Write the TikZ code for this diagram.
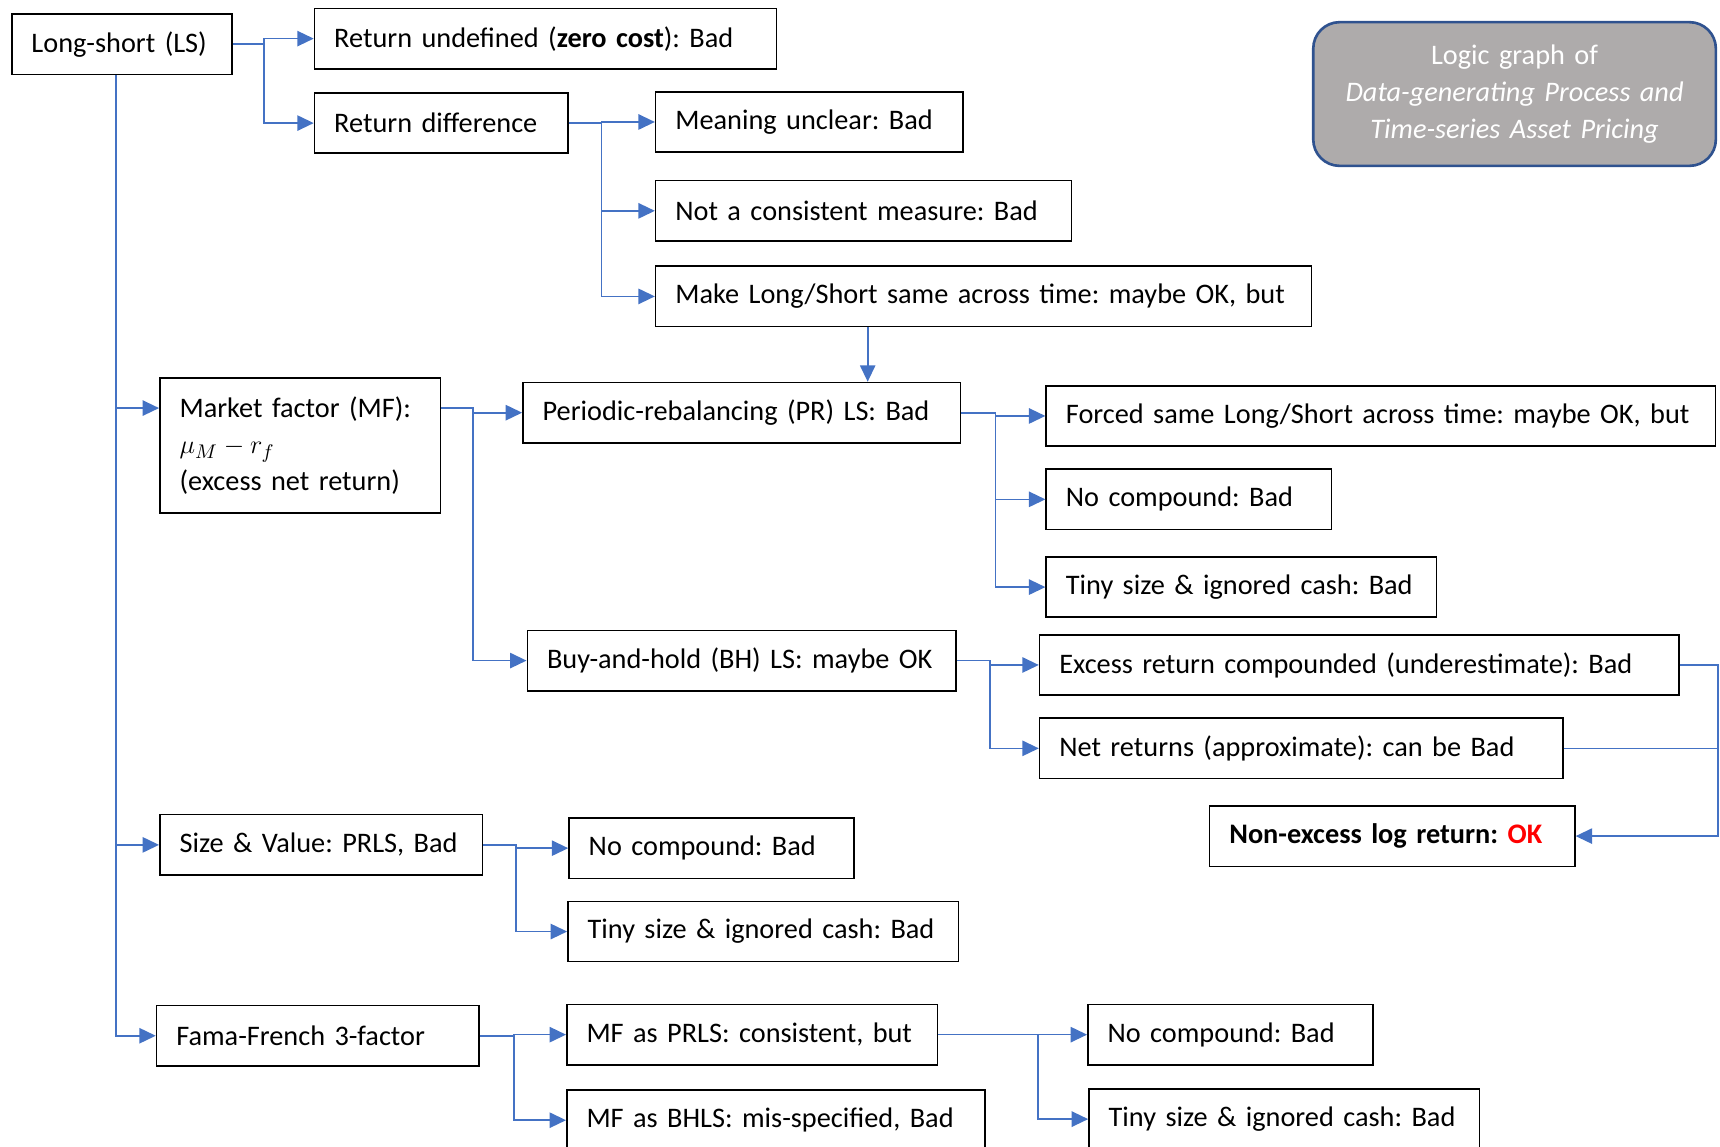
\documentclass[tikz,border=0pt]{standalone}
\usepackage{fontspec}
\setmainfont{Carlito}
\usetikzlibrary{arrows.meta,positioning}
\definecolor{lineblue}{HTML}{4472C4}
\definecolor{titlegray}{HTML}{AEABAB}
\definecolor{titleblue}{HTML}{2F528F}
\frenchspacing
\tikzset{
  box/.style={draw, line width=0.7pt, inner xsep=9pt, inner ysep=0pt,
    minimum height=27.5pt, text width=#1, align=left, anchor=north west},
  link/.style={lineblue, line width=0.75pt, -{Triangle[length=7.5pt,width=7pt]}},
}
\begin{document}
\begin{tikzpicture}[x=0.5pt,y=-0.5pt,font=\fontsize{12.9}{16.75}\selectfont]
    \useasboundingbox (0,0) rectangle (1568,1045);

    % Title
    \node[box=165.5pt, align=center, rounded corners=12pt, fill=titlegray,
      draw=titleblue, line width=1.2pt, text=white, minimum height=65.5pt]
      (title) at (1196,19) {Logic graph of\\\textit{Data-generating Process and}\\\textit{Time-series Asset Pricing}};

    % Long-short branch
    \node[box=82.5pt] (ls) at (10,12) {Long-short (LS)};
    \node[box=192.5pt] (rund) at (286,7) {Return undefined (\textbf{zero cost}): Bad};
    \node[box=97.5pt] (rdiff) at (286,84) {Return difference};
    \node[box=122pt] (mean) at (597,83) {Meaning unclear: Bad};
    \node[box=171.5pt] (ncons) at (597,164) {Not a consistent measure: Bad};
    \node[box=281pt] (make) at (597,242) {Make Long/Short same across time: maybe OK, but};

    % Market factor branch
    \node[box=110pt, minimum height=61.5pt] (mf) at (145,344) {Market factor (MF):\\$\mu_M - r_f$\\(excess net return)};
    \node[box=181.5pt] (pr) at (476,348) {Periodic-rebalancing (PR) LS: Bad};
    \node[box=287pt] (forced) at (953,351) {Forced same Long/Short across time: maybe OK, but};
    \node[box=112pt] (prnc) at (953,427) {No compound: Bad};
    \node[box=160pt] (prts) at (953,507) {Tiny size \& ignored cash: Bad};
    \node[box=177.5pt] (bh) at (480,574) {Buy-and-hold (BH) LS: maybe OK};
    \node[box=273.5pt] (exc) at (947,578) {Excess return compounded (underestimate): Bad};
    \node[box=220.5pt] (net) at (947,654) {Net returns (approximate): can be Bad};
    \node[box=148.5pt] (nonex) at (1102,734) {\textbf{Non-excess log return: \textcolor{red}{OK}}};

    % Size & Value branch
    \node[box=129pt] (sv) at (145,742) {Size \& Value: PRLS, Bad};
    \node[box=112pt] (svnc) at (518,745) {No compound: Bad};
    \node[box=160pt] (svts) at (517,821) {Tiny size \& ignored cash: Bad};

    % Fama-French branch
    \node[box=129pt] (ff) at (142,916) {Fama-French 3-factor};
    \node[box=151pt] (mfpr) at (516,915) {MF as PRLS: consistent, but};
    \node[box=172.5pt] (mfbh) at (516,993) {MF as BHLS: mis-specified, Bad};
    \node[box=112pt] (ffnc) at (991,915) {No compound: Bad};
    \node[box=160pt] (ffts) at (992,992) {Tiny size \& ignored cash: Bad};

    % Connectors
    \draw[link] (ls.east) -- ++(28,0) coordinate (jls) |- (rund.west);
    \draw[link] (jls) |- (rdiff.west);
    \path ([xshift=-2.75pt]ls.south) coordinate (jtr);
    \draw[link] (jtr) |- ([yshift=-14pt]mf.north west);
    \draw[link] (jtr) |- (sv.west);
    \draw[link] (jtr) |- (ff.west);

    \draw[link] (rdiff.east) -- ++(30,0) coordinate (jrd) |- (mean.west);
    \draw[link] (jrd) |- (ncons.west);
    \draw[link] (jrd) |- (make.west);
    \path ([xshift=97pt]make.south west) coordinate (jmk);
    \draw[link] (jmk) -- (jmk |- pr.north);

    \draw[link] ([yshift=-14pt]mf.north east) -- ++(29,0) coordinate (jmf) |- (pr.west);
    \draw[link] (jmf) |- (bh.west);

    \draw[link] (pr.east) -- ++(31,0) coordinate (jpr) |- (forced.west);
    \draw[link] (jpr) |- (prnc.west);
    \draw[link] (jpr) |- (prts.west);

    \draw[link] (bh.east) -- ++(30,0) coordinate (jbh) |- (exc.west);
    \draw[link] (jbh) |- (net.west);

    \draw[link] (exc.east) -- ++(35,0) coordinate (jex) |- (nonex.east);
    \draw[lineblue, line width=0.75pt] (net.east) -- (net.east -| jex);

    \draw[link] (sv.east) -- ++(30,0) coordinate (jsv) |- (svnc.west);
    \draw[link] (jsv) |- (svts.west);

    \draw[link] (ff.east) -- ++(31,0) coordinate (jff) |- (mfpr.west);
    \draw[link] (jff) |- (mfbh.west);

    \draw[link] (mfpr.east) -- ++(91,0) coordinate (jpr2) |- (ffnc.west);
    \draw[link] (jpr2) |- (ffts.west);
\end{tikzpicture}
\end{document}
